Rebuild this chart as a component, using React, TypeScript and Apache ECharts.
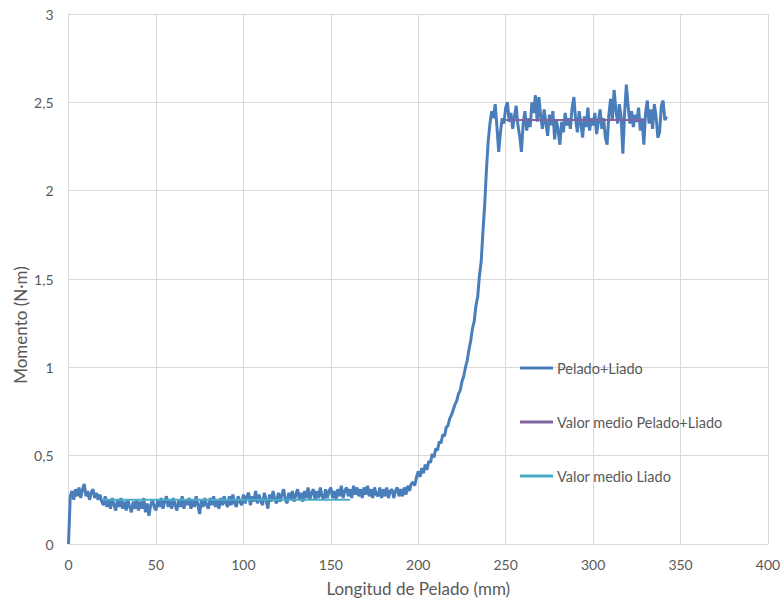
import React, { useEffect, useRef } from "react";
import * as echarts from "echarts";

// Longitud de pelado sampled every 1 mm starting at 0 mm
const lengthStart = 0;
const lengthStep = 1;

// Momento (N·m) for Pelado+Liado, one value per mm (0..342 mm)
const momentoPeladoLiado = [
  0.00, 0.27, 0.30, 0.25, 0.31, 0.27, 0.32, 0.26, 0.31, 0.34,
  0.27, 0.30, 0.25, 0.29, 0.31, 0.26, 0.29, 0.25, 0.28, 0.24,
  0.22, 0.27, 0.21, 0.25, 0.20, 0.26, 0.22, 0.19, 0.25, 0.21,
  0.26, 0.20, 0.24, 0.19, 0.25, 0.21, 0.18, 0.24, 0.20, 0.25,
  0.19, 0.24, 0.20, 0.26, 0.18, 0.23, 0.16, 0.22, 0.25, 0.21,
  0.19, 0.25, 0.21, 0.26, 0.20, 0.24, 0.27, 0.21, 0.25, 0.20,
  0.26, 0.22, 0.19, 0.25, 0.21, 0.27, 0.20, 0.25, 0.22, 0.26,
  0.20, 0.25, 0.21, 0.27, 0.22, 0.17, 0.25, 0.21, 0.26, 0.22,
  0.20, 0.26, 0.22, 0.27, 0.21, 0.25, 0.20, 0.26, 0.22, 0.27,
  0.23, 0.21, 0.27, 0.22, 0.28, 0.23, 0.21, 0.27, 0.24, 0.22,
  0.28, 0.23, 0.27, 0.29, 0.22, 0.27, 0.24, 0.30, 0.23, 0.28,
  0.24, 0.22, 0.29, 0.25, 0.20, 0.28, 0.24, 0.30, 0.25, 0.23,
  0.29, 0.24, 0.28, 0.31, 0.25, 0.23, 0.29, 0.25, 0.30, 0.24,
  0.28, 0.31, 0.25, 0.29, 0.24, 0.30, 0.26, 0.32, 0.25, 0.29,
  0.31, 0.25, 0.30, 0.26, 0.32, 0.27, 0.25, 0.31, 0.26, 0.30,
  0.32, 0.26, 0.30, 0.25, 0.31, 0.27, 0.33, 0.26, 0.30, 0.32,
  0.27, 0.31, 0.26, 0.33, 0.28, 0.32, 0.27, 0.31, 0.26, 0.32,
  0.28, 0.33, 0.27, 0.31, 0.26, 0.32, 0.28, 0.27, 0.32, 0.26,
  0.31, 0.27, 0.32, 0.26, 0.30, 0.31, 0.26, 0.30, 0.32, 0.27,
  0.31, 0.27, 0.32, 0.28, 0.33, 0.30, 0.34, 0.35, 0.33, 0.38,
  0.41, 0.38, 0.43, 0.40, 0.45, 0.42, 0.47, 0.46, 0.51, 0.49,
  0.54, 0.53, 0.58, 0.57, 0.62, 0.61, 0.66, 0.67, 0.71, 0.73,
  0.76, 0.79, 0.81, 0.85, 0.87, 0.92, 0.95, 1.00, 1.04, 1.10,
  1.15, 1.22, 1.26, 1.35, 1.40, 1.52, 1.60, 1.77, 1.92, 2.12,
  2.28, 2.38, 2.45, 2.41, 2.49, 2.36, 2.22, 2.33, 2.41, 2.38,
  2.47, 2.50, 2.39, 2.44, 2.35, 2.42, 2.48, 2.37, 2.31, 2.22,
  2.38, 2.45, 2.34, 2.41, 2.36, 2.50, 2.44, 2.54, 2.39, 2.53,
  2.42, 2.35, 2.46, 2.38, 2.31, 2.43, 2.37, 2.45, 2.29, 2.40,
  2.34, 2.26, 2.39, 2.33, 2.44, 2.37, 2.41, 2.35, 2.47, 2.53,
  2.40, 2.33, 2.45, 2.38, 2.30, 2.42, 2.36, 2.47, 2.34, 2.41,
  2.37, 2.44, 2.32, 2.39, 2.46, 2.35, 2.41, 2.30, 2.26, 2.43,
  2.52, 2.40, 2.57, 2.46, 2.38, 2.49, 2.42, 2.21, 2.44, 2.60,
  2.48, 2.38, 2.45, 2.36, 2.43, 2.39, 2.47, 2.34, 2.41, 2.26,
  2.44, 2.51, 2.38, 2.46, 2.35, 2.49, 2.42, 2.30, 2.33, 2.48,
  2.51, 2.40, 2.42,
];

// Valor medio Pelado+Liado: [start mm, end mm] and value
const medioPeladoLiadoRange = [249.5, 330];
const medioPeladoLiadoValor = 2.4;

// Valor medio Liado
const medioLiadoRange = [19.5, 161];
const medioLiadoValor = 0.25;

const seriesNames = ["Pelado+Liado", "Valor medio Pelado+Liado", "Valor medio Liado"];
const seriesColors = ["#4A7EBB", "#8064A2", "#4BACC6"];

const xTicks = [0, 50, 100, 150, 200, 250, 300, 350, 400];
const yTicks = [0, 0.5, 1, 1.5, 2, 2.5, 3];

const FONT = "Lato, 'Open Sans', sans-serif";
const TEXT = "#595959";
const GRID = "#D9D9D9";

export default function App() {
  const ref = useRef<HTMLDivElement>(null);

  useEffect(() => {
    if (!ref.current) return;
    const chart = echarts.init(ref.current, undefined, { renderer: "svg" });

    const mainData = momentoPeladoLiado.map((v, i) => [lengthStart + i * lengthStep, v]);
    const mediaPL = medioPeladoLiadoRange.map((x) => [x, medioPeladoLiadoValor]);
    const mediaL = medioLiadoRange.map((x) => [x, medioLiadoValor]);

    chart.setOption({
      animation: false,
      backgroundColor: "#ffffff",
      textStyle: { fontFamily: FONT },
      grid: { left: 68.5, right: 16, top: 14, bottom: 61, containLabel: false },
      legend: {
        orient: "vertical",
        left: 520,
        top: 360,
        padding: 0,
        itemGap: 38,
        itemWidth: 33,
        itemHeight: 3,
        icon: "rect",
        data: seriesNames,
        textStyle: { color: TEXT, fontSize: 14.5, fontFamily: FONT, lineHeight: 16, padding: [0, 0, 0, -1] },
      },
      xAxis: {
        type: "value",
        min: xTicks[0],
        max: xTicks[xTicks.length - 1],
        interval: 50,
        name: "Longitud de Pelado (mm)",
        nameLocation: "middle",
        nameGap: 36,
        nameTextStyle: { color: TEXT, fontSize: 17, fontFamily: FONT },
        axisLine: { show: true, lineStyle: { color: GRID, width: 1 } },
        axisTick: { show: false },
        axisLabel: { color: TEXT, fontSize: 14, fontFamily: FONT, margin: 13 },
        splitLine: { show: true, lineStyle: { color: GRID, width: 1 } },
      },
      yAxis: {
        type: "value",
        min: yTicks[0],
        max: yTicks[yTicks.length - 1],
        interval: 0.5,
        axisLine: { show: true, lineStyle: { color: GRID, width: 1 } },
        axisTick: { show: false },
        axisLabel: {
          color: TEXT,
          fontSize: 14,
          fontFamily: FONT,
          margin: 15,
          formatter: (v: number) => String(v).replace(".", ","),
        },
        splitLine: { show: true, lineStyle: { color: GRID, width: 1 } },
      },
      graphic: [
        {
          type: "text",
          x: 20,
          y: 325,
          rotation: Math.PI / 2,
          style: {
            text: "Momento (N·m)",
            fill: TEXT,
            font: `17px ${FONT}`,
            align: "center",
            verticalAlign: "middle",
          },
        },
      ],
      series: [
        {
          name: seriesNames[0],
          type: "line",
          data: mainData,
          showSymbol: false,
          symbol: "none",
          color: seriesColors[0],
          lineStyle: { width: 3, color: seriesColors[0] },
          z: 2,
        },
        {
          name: seriesNames[1],
          type: "line",
          data: mediaPL,
          showSymbol: false,
          symbol: "none",
          color: seriesColors[1],
          lineStyle: { width: 2, color: seriesColors[1] },
          z: 3,
        },
        {
          name: seriesNames[2],
          type: "line",
          data: mediaL,
          showSymbol: false,
          symbol: "none",
          color: seriesColors[2],
          lineStyle: { width: 2, color: seriesColors[2] },
          z: 3,
        },
      ],
    });

    return () => chart.dispose();
  }, []);

  return <div ref={ref} style={{ position: "fixed", left: 0, top: 0, width: 784, height: 605 }} />;
}
